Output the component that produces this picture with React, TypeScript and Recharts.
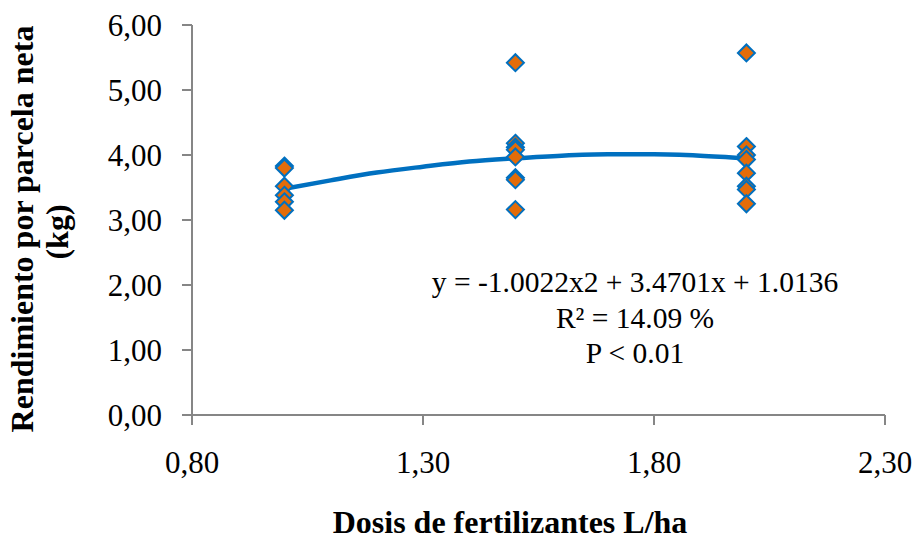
import React from "react";
import {
  ComposedChart,
  Scatter,
  Line,
  XAxis,
  YAxis,
} from "recharts";

// Observed yields (kg per net plot) at each fertilizer dose
const doses = [1.0, 1.5, 2.0];
const yieldsDose1 = [3.83, 3.8, 3.52, 3.38, 3.28, 3.15];
const yieldsDose15 = [5.42, 4.18, 4.12, 4.08, 3.97, 3.65, 3.62, 3.16];
const yieldsDose2 = [5.57, 4.13, 4.0, 3.93, 3.72, 3.52, 3.47, 3.25];

// Polynomial trend line
const trendX = [1.0, 1.1, 1.2, 1.3, 1.4, 1.5, 1.6, 1.7, 1.8, 1.9, 2.0];
const trendY = [3.48, 3.61, 3.73, 3.82, 3.9, 3.95, 3.99, 4.01, 4.01, 3.99, 3.95];

const xTicks = [0.8, 1.3, 1.8, 2.3];
const yTicks = [0, 1, 2, 3, 4, 5, 6];

const equationLines = ["y = -1.0022x2 + 3.4701x + 1.0136", "R² = 14.09 %", "P < 0.01"];

const ORANGE = "#E36C09";
const BLUE = "#0070C0";
const AXIS = "#868686";
const FONT = "'Liberation Serif', 'Times New Roman', serif";

const points = [yieldsDose1, yieldsDose15, yieldsDose2].flatMap((ys, i) =>
  ys.map((y) => ({ x: doses[i], y }))
);
const trend = trendX.map((x, i) => ({ x, y: trendY[i] }));

const fmt = (v: number) => v.toFixed(2).replace(".", ",");

function Diamond(props: any) {
  const { cx, cy } = props;
  const r = 8.5;
  return (
    <polygon
      points={`${cx},${cy - r} ${cx + r},${cy} ${cx},${cy + r} ${cx - r},${cy}`}
      fill={ORANGE}
      stroke={BLUE}
      strokeWidth={2}
    />
  );
}

export default function App() {
  return (
    <div style={{ position: "absolute", left: 0, top: 0, width: 916, height: 541, background: "#fff" }}>
      <ComposedChart
        width={916}
        height={541}
        margin={{ top: 25, right: 31, bottom: 56, left: 100 }}
      >
        <XAxis
          type="number"
          dataKey="x"
          domain={[0.8, 2.3]}
          ticks={xTicks}
          tickFormatter={fmt}
          height={70}
          stroke={AXIS}
          strokeWidth={2}
          tickSize={10}
          tickMargin={26}
          tick={{ fill: "#000", fontSize: 31, fontFamily: FONT }}
          allowDataOverflow
        />
        <YAxis
          type="number"
          dataKey="y"
          domain={[0, 6]}
          ticks={yTicks}
          tickFormatter={fmt}
          width={92}
          stroke={AXIS}
          strokeWidth={2}
          tickSize={10}
          tickMargin={20}
          tick={{ fill: "#000", fontSize: 31, fontFamily: FONT }}
        />
        <Scatter data={points} dataKey="y" shape={<Diamond />} isAnimationActive={false} />
        <Line
          data={trend}
          dataKey="y"
          type="monotone"
          stroke={BLUE}
          strokeWidth={4.5}
          dot={false}
          activeDot={false}
          isAnimationActive={false}
        />
      </ComposedChart>

      {/* titles and regression annotation */}
      <svg
        width={916}
        height={541}
        style={{ position: "absolute", left: 0, top: 0, pointerEvents: "none" }}
        fontFamily={FONT}
      >
        <text x={510} y={533} textAnchor="middle" fontSize={32} fontWeight="bold">
          Dosis de fertilizantes L/ha
        </text>
        <text transform="translate(33,229) rotate(-90)" textAnchor="middle" fontSize={32} fontWeight="bold">
          Rendimiento por parcela neta
        </text>
        <text transform="translate(68,232) rotate(-90)" textAnchor="middle" fontSize={32} fontWeight="bold">
          (kg)
        </text>
        {equationLines.map((t, i) => (
          <text key={t} x={635} y={[292, 328, 363][i]} textAnchor="middle" fontSize={29.5}>
            {t}
          </text>
        ))}
      </svg>
    </div>
  );
}
